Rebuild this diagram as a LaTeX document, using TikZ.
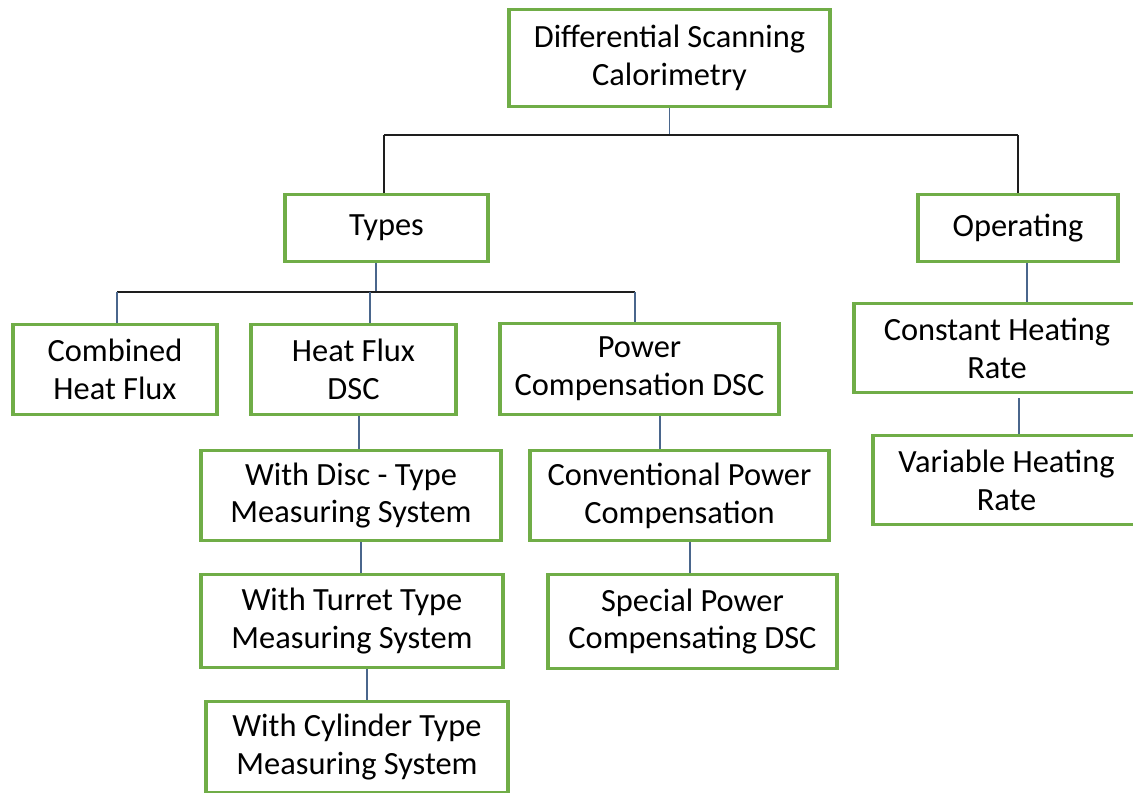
\documentclass[tikz,border=0pt]{standalone}
\usepackage{fontspec}
\setmainfont{Carlito}
\definecolor{boxgreen}{RGB}{112,173,71}
\definecolor{vblue}{RGB}{74,102,140}
\definecolor{hdark}{RGB}{30,30,30}
\tikzset{
  box/.style={draw=boxgreen, line width=2.3pt, fill=white, align=center, inner sep=0pt,
    font=\fontsize{24.3}{28.4}\selectfont, text=black},
  vline/.style={draw=vblue, line width=1.1pt},
  hline/.style={draw=hdark, line width=1.1pt}
}
\newcommand\bx[6]{\node[box, minimum width={(#4-#2)*0.75pt}, minimum height={(#5-#3)*0.75pt}] (#1) at ({(#2+#4)/2},{(#3+#5)/2+1.5}) {#6};}
\begin{document}
\begin{tikzpicture}[x=0.75pt,y=-0.75pt]
\clip (0,0) rectangle (1133,793);
\fill[white] (0,0) rectangle (1133,793);
% boxes
\bx{dsc}{509}{8}{830}{105}{Differential Scanning\\Calorimetry}
\bx{types}{285}{193}{488}{260}{Types}
\bx{oper}{918}{193}{1118}{260}{Operating}
\bx{comb}{13}{323}{217}{413}{Combined\\Heat Flux}
\bx{hf}{251}{323}{456}{413}{Heat Flux\\DSC}
\bx{pc}{500}{322}{779}{413}{Power\\Compensation DSC}
\bx{chr}{854}{302}{1140}{391}{Constant Heating\\Rate}
\bx{vhr}{873}{434}{1140}{523}{Variable Heating\\Rate}
\bx{disc}{201}{449}{501}{539}{With Disc - Type\\Measuring System}
\bx{turret}{201}{573}{503}{666}{With Turret Type\\Measuring System}
\bx{cyl}{206}{700}{508}{791}{With Cylinder Type\\Measuring System}
\bx{conv}{530}{449}{829}{539}{Conventional Power\\Compensation}
\bx{spec}{548}{573}{837}{667}{Special Power\\Compensating DSC}
% top level connectors
\coordinate (tl) at (384,135);
\coordinate (tr) at (1018,135);
\draw[vline] (dsc.south) -- (dsc.south |- tl);
\draw[hline] (tl) -- (tr);
\draw[hline] (tl) -- (tl |- types.north);
\draw[hline] (tr) -- (tr |- oper.north);
% types branch
\coordinate (tb) at (376,292);
\coordinate (bl) at (117,292);
\coordinate (bm) at (370,292);
\coordinate (br) at (635,292);
\draw[vline] (tb |- types.south) -- (tb);
\draw[hline] (bl) -- (br);
\draw[vline] (bl) -- (bl |- comb.north);
\draw[vline] (bm) -- (bm |- hf.north);
\draw[vline] (br) -- (br |- pc.north);
% operating chain
\coordinate (o1) at (1027,280);
\draw[vline] (o1 |- oper.south) -- (o1 |- chr.north);
\coordinate (o2) at (1019,398);
\draw[vline] (o2) -- (o2 |- vhr.north);
% heat flux chain
\coordinate (h1) at (359,430);
\draw[vline] (h1 |- hf.south) -- (h1 |- disc.north);
\coordinate (h2) at (361,550);
\draw[vline] (h2 |- disc.south) -- (h2 |- turret.north);
\coordinate (h3) at (367,680);
\draw[vline] (h3 |- turret.south) -- (h3 |- cyl.north);
% power compensation chain
\coordinate (p1) at (660,430);
\draw[vline] (p1 |- pc.south) -- (p1 |- conv.north);
\coordinate (p2) at (690,550);
\draw[vline] (p2 |- conv.south) -- (p2 |- spec.north);
\end{tikzpicture}
\end{document}
